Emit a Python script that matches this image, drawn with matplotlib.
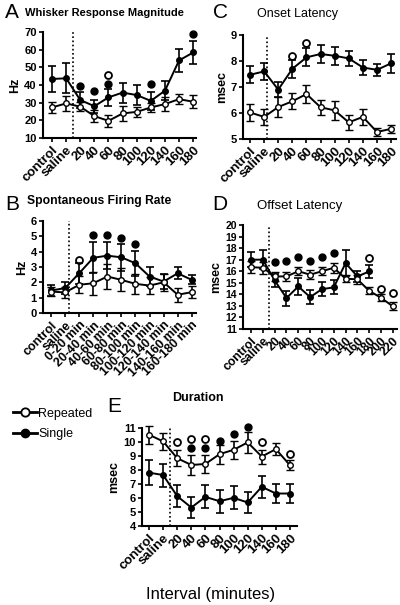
import matplotlib
matplotlib.use("Agg")
import matplotlib.pyplot as plt
from matplotlib.lines import Line2D

plt.rcParams['font.family'] = ['Liberation Sans', 'DejaVu Sans']

# ---------------- data ----------------
labels_min = ["control", "saline", "20", "40", "60", "80", "100", "120", "140", "160", "180"]
labels_B = ["control", "saline", "0-20 min", "20-40 min", "40-60 min", "60-80 min", "80-100 min",
            "100-120 min", "120-140 min", "140-160 min", "160-180 min"]
labels_D = ["control", "saline", "20", "40", "60", "80", "100", "120", "140", "160", "180", "200", "220"]

# A: Whisker Response Magnitude (Hz)
A_single = [43.4, 43.8, 31.5, 28.0, 33.0, 35.7, 34.3, 31.0, 36.8, 53.9, 58.4]
A_single_err = [7.6, 8.5, 4.5, 3.6, 4.7, 5.7, 5.7, 5.0, 5.5, 6.6, 6.4]
A_rep = [27.3, 29.6, 27.7, 22.4, 19.7, 23.9, 24.8, 27.3, 29.2, 32.0, 30.5]
A_rep_err = [3.3, 4.3, 2.6, 3.3, 3.3, 4.0, 3.0, 2.4, 3.8, 2.8, 3.6]
A_sig_single_x = [2, 3, 4, 7, 10]
A_sig_single_y = [39.5, 36.8, 40.6, 40.6, 68.9]
A_sig_rep_x = [4]
A_sig_rep_y = [45.7]

# B: Spontaneous Firing Rate (Hz)
B_single = [1.47, 1.62, 2.59, 3.60, 3.74, 3.63, 3.24, 2.38, 2.05, 2.59, 2.16]
B_single_err = [0.38, 0.40, 0.70, 1.00, 0.90, 0.87, 0.80, 0.60, 0.50, 0.38, 0.30]
B_rep = [1.40, 1.34, 1.84, 1.94, 2.38, 2.16, 1.90, 1.79, 2.00, 1.19, 1.36]
B_rep_err = [0.30, 0.35, 0.55, 0.75, 0.80, 0.75, 0.65, 0.55, 0.55, 0.45, 0.40]
B_sig_single_x = [3, 4, 5, 6]
B_sig_single_y = [5.08, 5.08, 4.86, 4.50]
B_sig_rep_x = [2]
B_sig_rep_y = [3.46]

# C: Onset Latency (msec)
C_single = [7.47, 7.60, 6.90, 7.70, 8.14, 8.27, 8.20, 8.10, 7.75, 7.66, 7.91]
C_single_err = [0.33, 0.32, 0.29, 0.35, 0.35, 0.36, 0.35, 0.30, 0.27, 0.24, 0.36]
C_rep = [6.02, 5.85, 6.23, 6.45, 6.73, 6.22, 6.10, 5.64, 5.85, 5.27, 5.39]
C_rep_err = [0.32, 0.32, 0.38, 0.30, 0.34, 0.29, 0.36, 0.29, 0.30, 0.17, 0.16]
C_sig_rep_x = [3, 4]
C_sig_rep_y = [8.20, 8.70]

# D: Offset Latency (msec)
D_single = [17.0, 17.0, 15.2, 13.68, 14.68, 13.76, 14.45, 14.6, 16.7, 15.55, 15.98]
D_single_err = [0.65, 0.80, 0.60, 0.65, 0.70, 0.60, 0.60, 0.60, 1.10, 0.50, 0.55]
D_rep = [16.35, 16.3, 15.55, 15.55, 16.0, 15.7, 16.0, 16.3, 15.35, 15.3, 14.3, 13.7, 12.96]
D_rep_err = [0.50, 0.50, 0.40, 0.40, 0.35, 0.40, 0.35, 0.45, 0.30, 0.40, 0.30, 0.30, 0.35]
D_sig_single_x = [2, 3, 4, 5, 6, 7]
D_sig_single_y = [16.84, 16.9, 17.27, 16.9, 17.27, 17.6]
D_sig_rep_x = [10, 11, 12]
D_sig_rep_y = [17.18, 14.48, 14.1]

# E: Duration (msec)
E_single = [7.81, 7.64, 6.13, 5.32, 6.08, 5.77, 6.01, 5.68, 6.80, 6.32, 6.32]
E_single_err = [0.87, 0.82, 0.80, 0.76, 0.82, 0.82, 0.82, 0.78, 0.80, 0.68, 0.66]
E_rep = [10.52, 10.04, 8.84, 8.36, 8.43, 9.13, 9.44, 9.97, 8.96, 9.49, 8.34]
E_rep_err = [0.65, 0.58, 0.58, 0.72, 0.64, 0.68, 0.66, 0.72, 0.50, 0.44, 0.34]
E_sig_single_x = [3, 4, 5, 6, 7]
E_sig_single_y = [9.56, 9.56, 10.09, 10.59, 11.05]
E_sig_rep_x = [2, 3, 4, 8, 10]
E_sig_rep_y = [9.97, 10.2, 10.2, 9.97, 9.13]

# ---------------- figure ----------------
W, H = 400, 605
fig = plt.figure(figsize=(W / 100, H / 100), dpi=100)


def add_ax(l, r, top, bottom):
    return fig.add_axes([l / W, 1 - bottom / H, (r - l) / W, (bottom - top) / H])


LW = 1.4
MS = 4


def draw(ax, labels, single, s_err, rep, r_err, xlim, ylim, yticks, dash_x,
         sig_s=None, sig_r=None, ylabel="", tick_fs=9.5, ytick_fs=8):
    xs = list(range(len(single)))
    xr = list(range(len(rep)))
    ax.errorbar(xs, single, yerr=s_err, color='black', lw=LW, marker='o', ms=MS,
                mfc='black', mec='black', capsize=3, capthick=1.2, elinewidth=1.2,
                clip_on=False, zorder=3)
    ax.errorbar(xr, rep, yerr=r_err, color='black', lw=LW, marker='o', ms=MS,
                mfc='white', mec='black', mew=1.0, capsize=3, capthick=1.2,
                elinewidth=1.2, clip_on=False, zorder=4)
    if sig_s:
        ax.plot(sig_s[0], sig_s[1], 'o', color='black', ms=5, ls='none', clip_on=False)
    if sig_r:
        ax.plot(sig_r[0], sig_r[1], 'o', mfc='white', mec='black', mew=1.3, ms=5,
                ls='none', clip_on=False)
    ax.axvline(dash_x, color='black', ls=(0, (1, 1.5)), lw=1.2)
    ax.set_xlim(*xlim)
    ax.set_ylim(*ylim)
    ax.set_yticks(yticks)
    ax.set_xticks(range(len(labels)))
    ax.set_xticklabels(labels, rotation=45, ha='right', rotation_mode='anchor',
                       fontsize=tick_fs, fontweight='bold')
    for lab in ax.get_yticklabels():
        lab.set_fontweight('bold')
        lab.set_fontsize(ytick_fs)
    ax.spines['top'].set_visible(False)
    ax.spines['right'].set_visible(False)
    ax.spines['left'].set_linewidth(1.5)
    ax.spines['bottom'].set_linewidth(1.5)
    ax.tick_params(axis='both', direction='out', length=3, width=1.2, pad=1.5)
    ax.set_ylabel(ylabel, fontsize=9, fontweight='bold', labelpad=2)


# A
axA = add_ax(43, 196, 32, 138)
draw(axA, labels_min, A_single, A_single_err, A_rep, A_rep_err, (-0.64, 10.2), (10, 70),
     range(10, 71, 10), 1.5, (A_sig_single_x, A_sig_single_y), (A_sig_rep_x, A_sig_rep_y), "Hz")

# B
axB = add_ax(43, 196, 221, 313)
draw(axB, labels_B, B_single, B_single_err, B_rep, B_rep_err, (-0.57, 10.3), (0, 6),
     range(0, 7), 1.28, (B_sig_single_x, B_sig_single_y), (B_sig_rep_x, B_sig_rep_y), "Hz",
     tick_fs=9)

# C
axC = add_ax(243, 396, 35, 139)
draw(axC, labels_min, C_single, C_single_err, C_rep, C_rep_err, (-0.5, 10.35), (5, 9),
     range(5, 10), 1.17, None, (C_sig_rep_x, C_sig_rep_y), "msec")

# D
axD = add_ax(243, 397, 225, 329)
draw(axD, labels_D, D_single, D_single_err, D_rep, D_rep_err, (-0.68, 12.35), (11, 20),
     range(11, 21), 1.49, (D_sig_single_x, D_sig_single_y), (D_sig_rep_x, D_sig_rep_y), "msec",
     tick_fs=8.8, ytick_fs=7.5)

# E
axE = add_ax(142, 297, 428, 526)
draw(axE, labels_min, E_single, E_single_err, E_rep, E_rep_err, (-0.5, 10.5), (4, 11),
     range(4, 12), 1.49, (E_sig_single_x, E_sig_single_y), (E_sig_rep_x, E_sig_rep_y), "msec")

# titles and panel letters (pixel positions)
def ftext(x, y, s, **kw):
    fig.text(x / W, 1 - y / H, s, **kw)

ftext(5, 13, "A", fontsize=15, va='center', ha='left')
ftext(25, 13, "Whisker Response Magnitude", fontsize=8, fontweight='bold', va='center')
ftext(5, 205, "B", fontsize=15, va='center', ha='left')
ftext(27, 201, "Spontaneous Firing Rate", fontsize=8.7, fontweight='bold', va='center')
ftext(213, 13, "C", fontsize=15, va='center', ha='left')
ftext(257, 14, "Onset Latency", fontsize=9, va='center')
ftext(212, 205, "D", fontsize=15, va='center', ha='left')
ftext(257, 206, "Offset Latency", fontsize=9.5, va='center')
ftext(107, 407, "E", fontsize=15, va='center', ha='left')
ftext(172, 398, "Duration", fontsize=9, fontweight='bold', va='center')
ftext(211, 595, "Interval (minutes)", fontsize=12, va='center', ha='center')

# legend
h_rep = Line2D([], [], color='black', lw=2.0, marker='o', ms=6, mfc='white', mec='black', mew=1.3)
h_single = Line2D([], [], color='black', lw=2.0, marker='o', ms=6, mfc='black', mec='black')
fig.legend([h_rep, h_single], ["Repeated", "Single"], loc='upper left',
           bbox_to_anchor=(4 / W, 1 - 399 / H), frameon=False, fontsize=9,
           handlelength=1.9, handletextpad=0.15, labelspacing=0.65, borderpad=0.2)

fig.savefig("out.png", dpi=100)
